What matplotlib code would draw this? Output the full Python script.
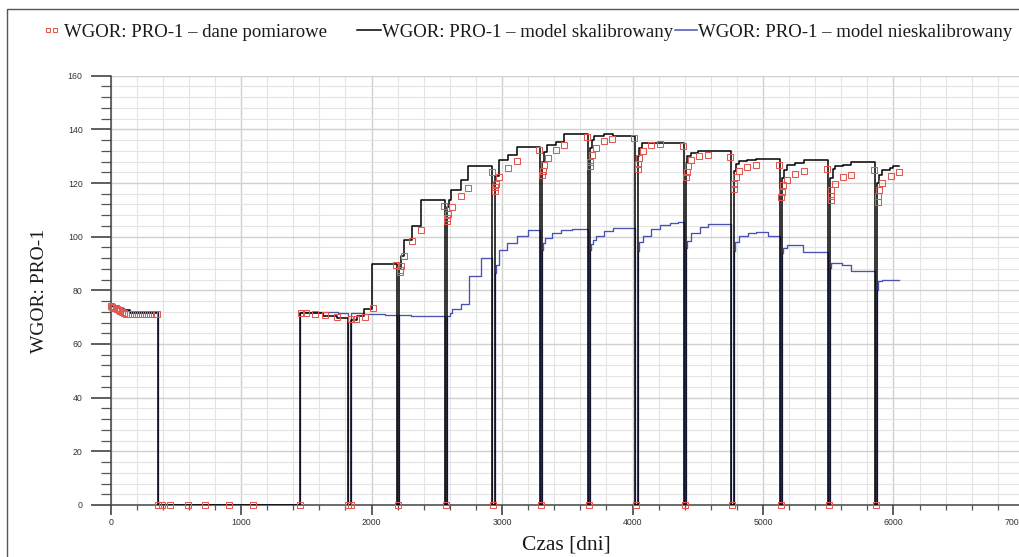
import matplotlib
matplotlib.use('Agg')
import matplotlib.pyplot as plt
from matplotlib.ticker import MultipleLocator
from matplotlib.patches import Rectangle
from matplotlib.lines import Line2D
from matplotlib.font_manager import FontProperties

plt.rcParams['font.family'] = 'Liberation Sans'

# model skalibrowany: step knots (time [days], value); 0 = shut-in
calib_t = [0, 45, 95, 145, 361,
           1454, 1630, 1735, 1823,
           1841, 1889, 1939, 2005, 2191,
           2209, 2227, 2247, 2311, 2375, 2562,
           2575, 2590, 2610, 2683, 2739, 2926,
           2944, 2977, 3046, 3113, 3288,
           3305, 3323, 3345, 3413, 3477, 3656,
           3674, 3690, 3707, 3783, 3848, 4021,
           4040, 4050, 4075, 4393,
           4411, 4420, 4445, 4500, 4757,
           4777, 4795, 4820, 4880, 4950, 5127,
           5146, 5161, 5181, 5243, 5312, 5499,
           5517, 5538, 5550, 5614, 5678, 5857,
           5876, 5891, 5909, 5972, 6000, 6045]
calib_v = [74.0, 73.4, 72.5, 71.5, 0,
           71.5, 70.6, 69.7, 0,
           69.0, 70.3, 73.0, 89.8, 0,
           88.5, 92.9, 98.9, 103.9, 113.6, 0,
           111.0, 113.8, 117.5, 121.0, 126.2, 0,
           122.5, 128.5, 130.6, 133.5, 0,
           128.0, 131.5, 134.0, 135.3, 138.1, 0,
           133.0, 136.2, 137.7, 138.1, 137.4, 0,
           130.0, 133.0, 135.0, 0,
           127.5, 130.0, 131.3, 131.8, 0,
           124.4, 127.0, 128.1, 128.6, 129.1, 0,
           122.0, 125.0, 126.9, 127.5, 128.4, 0,
           122.0, 125.2, 126.2, 126.9, 127.8, 0,
           120.0, 123.1, 124.7, 125.6, 126.2, 126.2]

# model nieskalibrowany
uncal_t = [0, 50, 100, 140, 361,
           1454, 1645, 1740, 1823,
           1841, 1940, 2100, 2191,
           2209, 2300, 2380, 2520, 2562,
           2575, 2600, 2620, 2683, 2747, 2836, 2926,
           2944, 2952, 2977, 3041, 3113, 3200, 3288,
           3305, 3315, 3330, 3380, 3450, 3540, 3656,
           3674, 3680, 3700, 3720, 3783, 3848, 4021,
           4040, 4048, 4078, 4144, 4208, 4285, 4349, 4393,
           4411, 4420, 4450, 4514, 4578, 4757,
           4777, 4785, 4818, 4882, 4944, 5040, 5127,
           5146, 5150, 5181, 5310, 5499,
           5517, 5525, 5607, 5673, 5857,
           5876, 5882, 5909, 6045]
uncal_v = [74.2, 73.5, 72.6, 72.0, 0,
           72.1, 71.8, 71.5, 0,
           71.4, 71.2, 70.9, 0,
           70.7, 70.5, 70.3, 70.4, 0,
           70.6, 71.5, 73.0, 75.0, 85.2, 92.0, 0,
           86.4, 89.6, 95.1, 97.6, 100.4, 102.4, 0,
           95.1, 97.6, 99.5, 101.4, 102.4, 102.9, 0,
           95.1, 97.3, 98.9, 100.1, 102.0, 103.4, 0,
           94.5, 97.9, 100.4, 102.9, 104.5, 105.1, 105.5, 0,
           95.8, 98.3, 101.4, 103.5, 104.6, 0,
           94.5, 97.9, 100.1, 101.4, 101.6, 100.1, 0,
           93.9, 95.8, 96.8, 94.3, 0,
           88.3, 90.2, 89.6, 87.3, 0,
           80.2, 83.3, 84.0, 84.0]

# dane pomiarowe
meas_t = [0, 12, 25, 38, 50, 62, 75, 90, 105, 120, 150, 180, 210, 240, 270, 300, 330, 358,
          362, 392, 455, 590, 725, 910, 1090,
          1454, 1457, 1495, 1568, 1642, 1736, 1818, 1846, 1846, 1883, 1947, 2010, 2185,
          2199, 2214, 2216, 2224, 2247, 2313, 2375, 2555,
          2570, 2575, 2580, 2585, 2614, 2683, 2742, 2922,
          2934, 2944, 2946, 2954, 2980, 3049, 3113, 3284,
          3296, 3307, 3313, 3323, 3349, 3413, 3477, 3652,
          3664, 3676, 3677, 3687, 3720, 3779, 3843, 4015,
          4029, 4040, 4042, 4048, 4080, 4144, 4211, 4388,
          4401, 4413, 4416, 4426, 4449, 4510, 4575, 4750,
          4765, 4780, 4781, 4790, 4818, 4880, 4943, 5120,
          5135, 5141, 5143, 5152, 5181, 5247, 5312, 5492,
          5507, 5520, 5521, 5525, 5550, 5617, 5678, 5852,
          5865, 5879, 5881, 5888, 5916, 5978, 6045]
meas_v = [74.3, 73.8, 73.6, 73.4, 73.0, 72.6, 72.3, 72.0, 71.6, 71.3, 71.2, 71.2, 71.2, 71.2, 71.2, 71.2, 71.2, 71.2,
          0, 0, 0, 0, 0, 0, 0,
          0, 71.4, 71.4, 71.3, 70.7, 70.0, 0, 0, 69.3, 69.5, 70.0, 73.3, 89.6,
          0, 87.7, 86.7, 89.2, 92.7, 98.3, 102.6, 111.6,
          0, 106.0, 107.0, 108.5, 111.1, 115.0, 118.2, 124.0,
          0, 117.2, 118.5, 119.8, 122.3, 125.6, 128.1, 132.2,
          0, 122.9, 124.6, 126.9, 129.4, 132.2, 134.1, 137.1,
          0, 126.2, 127.9, 130.3, 133.1, 135.6, 136.5, 136.8,
          0, 125.4, 127.2, 129.4, 132.1, 134.0, 134.6, 133.8,
          0, 122.3, 124.1, 126.2, 128.5, 130.2, 130.6, 129.7,
          0, 117.8, 119.7, 122.1, 124.4, 126.0, 126.6, 126.9,
          0, 114.8, 116.7, 119.2, 121.3, 123.5, 124.5, 125.4,
          0, 113.6, 115.3, 117.4, 119.8, 122.1, 123.1, 125.0,
          0, 113.1, 115.0, 117.5, 120.0, 122.6, 124.0]

labels = ['WGOR: PRO-1 – dane pomiarowe',
          'WGOR: PRO-1 – model skalibrowany',
          'WGOR: PRO-1 – model nieskalibrowany']

red = '#e0584f'
blue = '#4653b0'

fig = plt.figure(figsize=(10.19, 5.57), dpi=100)
ax = fig.add_axes([0.1086, 0.0934, 0.8962, 0.7707])

ax.step(uncal_t, uncal_v, where='post', color=blue, lw=0.95, zorder=3)
ax.step(calib_t, calib_v, where='post', color='black', lw=1.1, zorder=4)
ax.plot(meas_t, meas_v, ls='none', marker='s', ms=3.8, mfc='none', mec=red,
        mew=0.75, zorder=5, clip_on=False)

ax.set_xlim(0, 7000)
ax.set_ylim(0, 160)
ax.set_xticks(range(0, 7001, 1000))
ax.set_yticks(range(0, 161, 20))
ax.xaxis.set_minor_locator(MultipleLocator(200))
ax.yaxis.set_minor_locator(MultipleLocator(4))
ax.grid(which='major', color='#d0d0d0', lw=1.0)
ax.grid(which='minor', color='#e4e4e4', lw=0.8)
ax.set_axisbelow(True)

for s in ['top', 'right']:
    ax.spines[s].set_visible(False)
for s in ['left', 'bottom']:
    ax.spines[s].set_color('#444444')
    ax.spines[s].set_linewidth(1.1)

ax.tick_params(axis='y', which='major', length=14.4, width=1.1, color='#333333',
               labelsize=6.3, labelcolor='#333333', pad=5.8)
ax.tick_params(axis='y', which='minor', length=7.2, width=0.9, color='#555555')
ax.tick_params(axis='x', which='major', length=7.2, width=1.1, color='#333333',
               labelsize=6.3, labelcolor='#333333', pad=2.2)
ax.tick_params(axis='x', which='minor', length=3.6, width=0.9, color='#555555')
ax.get_xticklabels()[-1].set_horizontalalignment('right')

serif = 'Liberation Serif'
fig.text(40 / 1019, 0.4785, 'WGOR: PRO-1', rotation=90, ha='center', va='center',
         family=serif, fontsize=14, color='#1a1a1a')
fig.text(566 / 1019, 0.022, 'Czas [dni]', ha='center', va='center',
         family=serif, fontsize=15.5, color='#1a1a1a')

# legend entries laid out along the top
font = FontProperties(family=serif, size=13.5)
leg_y = 1 - 32 / 557
h_meas = Line2D([], [], ls='none', marker='s', ms=3.2, mfc='none', mec=red, mew=0.75)
h_cal = Line2D([], [], color='black', lw=1.1)
h_unc = Line2D([], [], color=blue, lw=1.1)
common = dict(loc='center left', frameon=False, borderpad=0, borderaxespad=0,
              prop=font, labelcolor='#1a1a1a')
fig.legend([h_meas], [labels[0]], bbox_to_anchor=(41.9 / 1019, leg_y),
           numpoints=2, handlelength=0.98, handletextpad=0.2, **common)
fig.legend([h_cal], [labels[1]], bbox_to_anchor=(357 / 1019, leg_y),
           handlelength=1.28, handletextpad=0.05, **common)
fig.legend([h_unc], [labels[2]], bbox_to_anchor=(675 / 1019, leg_y),
           handlelength=1.17, handletextpad=0.05, **common)

# outer frame
fig.add_artist(Rectangle((7 / 1019, -0.1), 1.2, 1.1 - 9 / 557, transform=fig.transFigure,
                         fill=False, ec='#555555', lw=1.0))

fig.savefig('out.png', dpi=100)
